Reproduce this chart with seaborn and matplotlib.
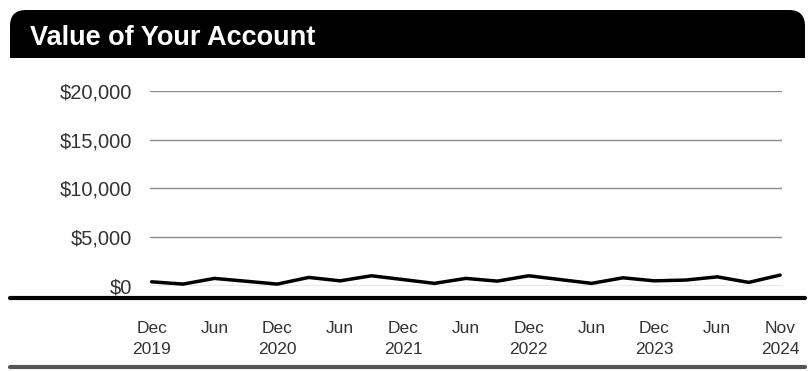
import matplotlib
matplotlib.use("Agg")
import matplotlib.pyplot as plt
import seaborn as sns
import pandas as pd
from matplotlib.patches import FancyBboxPatch, Rectangle
from matplotlib.lines import Line2D

# ---- data ----
period_index = list(range(21))
account_values = [410, 175, 760, 470, 175, 860, 510, 1030, 640, 250, 760,
                  480, 1030, 640, 250, 820, 510, 590, 920, 350, 1100]
tick_positions = [0, 2, 4, 6, 8, 10, 12, 14, 16, 18, 20]
tick_labels = ["Dec\n2019", "Jun", "Dec\n2020", "Jun", "Dec\n2021", "Jun",
               "Dec\n2022", "Jun", "Dec\n2023", "Jun", "Nov\n2024"]
y_ticks = [0, 5000, 10000, 15000, 20000]
y_tick_labels = ["$0", "$5,000", "$10,000", "$15,000", "$20,000"]
title = "Value of Your Account"

df = pd.DataFrame({"idx": period_index, "value": account_values})

sns.set_style("white")
plt.rcParams["font.family"] = ["Liberation Sans", "DejaVu Sans"]

W, H = 810, 371
fig = plt.figure(figsize=(W / 100, H / 100), dpi=100)
fig.patch.set_facecolor("white")

# axes placement (pixels)
x0, x1 = 150, 782
y0, y1 = 285.8, 91
ax = fig.add_axes([x0 / W, (H - y0) / H, (x1 - x0) / W, (y0 - y1) / H])
ax.set_facecolor("none")

sns.lineplot(data=df, x="idx", y="value", ax=ax, color="black",
             linewidth=2.5, clip_on=False)

ax.set_xlim(-0.05, 20.06)
ax.set_ylim(0, 20000)
ax.set_yticks(y_ticks)
ax.set_yticklabels(y_tick_labels, fontsize=14.5, color="#333333")
ax.set_xticks(tick_positions)
ax.set_xticklabels(tick_labels, fontsize=12.5, color="#333333", linespacing=1.5)
ax.tick_params(axis="y", length=0, pad=13)
ax.tick_params(axis="x", length=0, pad=25)
ax.set_xlabel("")
ax.set_ylabel("")
ax.grid(axis="y", color="#8a8a8a", linewidth=1.0)
ax.grid(axis="x", visible=False)
ax.set_axisbelow(True)
for s in ax.spines.values():
    s.set_visible(False)

# title bar (inches coordinates)
tr = fig.dpi_scale_trans
bar_left, bar_right = 10 / 100, 805 / 100
bar_top, bar_bot = (H - 10) / 100, (H - 58) / 100
r = 0.16
fig.patches.append(FancyBboxPatch((bar_left + r, bar_bot + r),
                                  bar_right - bar_left - 2 * r,
                                  bar_top - bar_bot - 2 * r,
                                  boxstyle=f"round,pad={r}",
                                  transform=tr, facecolor="black",
                                  edgecolor="none", figure=fig))
fig.patches.append(Rectangle((bar_left, bar_bot), bar_right - bar_left,
                             (bar_top - bar_bot) / 2, transform=tr,
                             facecolor="black", edgecolor="none", figure=fig))
fig.text(30 / W, (H - 38) / H, title, color="white", fontsize=19.5,
         fontweight="bold", ha="left", va="center",
         family=["Liberation Sans Narrow", "Liberation Sans", "DejaVu Sans"])

# horizontal rules
fig.add_artist(Line2D([10 / W, 805 / W], [(H - 298) / H] * 2,
                      color="black", linewidth=3))
fig.add_artist(Line2D([10 / W, 805 / W], [(H - 367) / H] * 2,
                      color="#555555", linewidth=3))

fig.savefig("out.png", dpi=100)
